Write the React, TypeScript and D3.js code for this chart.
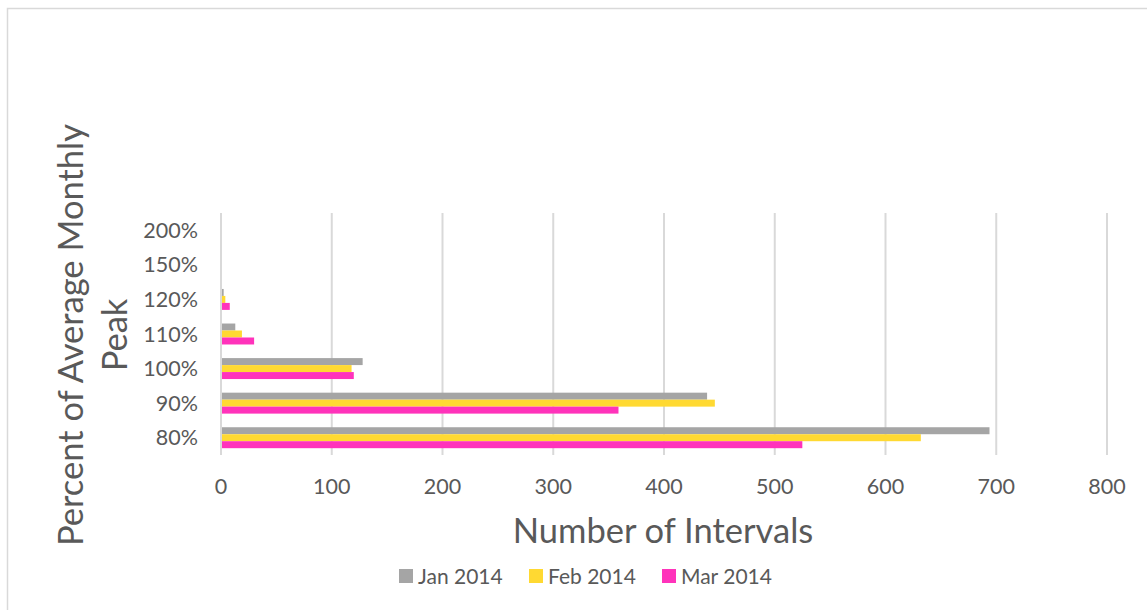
import React from "react";
import * as d3 from "d3";

const categories = ["200%", "150%", "120%", "110%", "100%", "90%", "80%"];
const seriesNames = ["Jan 2014", "Feb 2014", "Mar 2014"];
const jan2014 = [0, 0, 1.5, 12, 127, 438, 693];
const feb2014 = [0, 0, 3, 18, 117, 445, 631];
const mar2014 = [0, 0, 7, 29, 119, 358, 524];
const xTicks = [0, 100, 200, 300, 400, 500, 600, 700, 800];
const colors = ["#A5A5A5", "#FFD932", "#FF33BB"];

const W = 1147;
const H = 610;
const FONT = "Lato, 'Open Sans', sans-serif";
const TEXT = "#595959";

export default function App() {
  const seriesValues = [jan2014, feb2014, mar2014];
  const x = d3.scaleLinear().domain([0, 800]).range([221, 1107]);
  const y = d3.scaleBand().domain(categories).range([213, 455]).padding(0);
  const bw = y.bandwidth();
  const sub = d3
    .scaleBand()
    .domain(seriesNames)
    .range([bw * 0.197, bw * 0.803])
    .padding(0);

  const legendX = [399, 529, 662];

  return (
    <svg
      width={W}
      height={H}
      style={{ position: "absolute", left: 0, top: 0, background: "#fff" }}
    >
      <rect x={7.5} y={8.5} width={W + 10} height={H + 10} fill="#fff" stroke="#D9D9D9" strokeWidth={1.5} />
      {xTicks.map((t) => (
        <line
          key={t}
          x1={x(t)}
          x2={x(t)}
          y1={213}
          y2={455}
          stroke="#D9D9D9"
          strokeWidth={2}
        />
      ))}
      {categories.map((c, i) =>
        seriesNames.map((s, j) => {
          const v = seriesValues[j][i];
          return (
            <rect
              key={c + s}
              x={x(0) + 1}
              y={(y(c) as number) + (sub(s) as number)}
              width={Math.max(0, x(v) - x(0))}
              height={sub.bandwidth()}
              fill={colors[j]}
            />
          );
        })
      )}
      {categories.map((c) => (
        <text
          key={c}
          x={198}
          y={(y(c) as number) + bw / 2}
          dy="0.35em"
          textAnchor="end"
          fontFamily={FONT}
          fontSize={21.5}
          fill={TEXT}
        >
          {c}
        </text>
      ))}
      {xTicks.map((t) => (
        <text
          key={t}
          x={x(t)}
          y={494}
          textAnchor="middle"
          fontFamily={FONT}
          fontSize={21.5}
          fill={TEXT}
        >
          {t}
        </text>
      ))}
      <text
        x={663}
        y={543}
        textAnchor="middle"
        fontFamily={FONT}
        fontSize={34.5}
        fill={TEXT}
      >
        Number of Intervals
      </text>
      <g transform="translate(0,335) rotate(-90)">
        <text x={0} y={83} textAnchor="middle" fontFamily={FONT} fontSize={34.5} fill={TEXT}>
          Percent of Average Monthly
        </text>
        <text x={0} y={127} textAnchor="middle" fontFamily={FONT} fontSize={34.5} fill={TEXT}>
          Peak
        </text>
      </g>
      {seriesNames.map((s, j) => (
        <g key={s}>
          <rect x={legendX[j]} y={569} width={14} height={14} fill={colors[j]} />
          <text
            x={legendX[j] + 19}
            y={584}
            fontFamily={FONT}
            fontSize={21}
            fill={TEXT}
          >
            {s}
          </text>
        </g>
      ))}
    </svg>
  );
}
